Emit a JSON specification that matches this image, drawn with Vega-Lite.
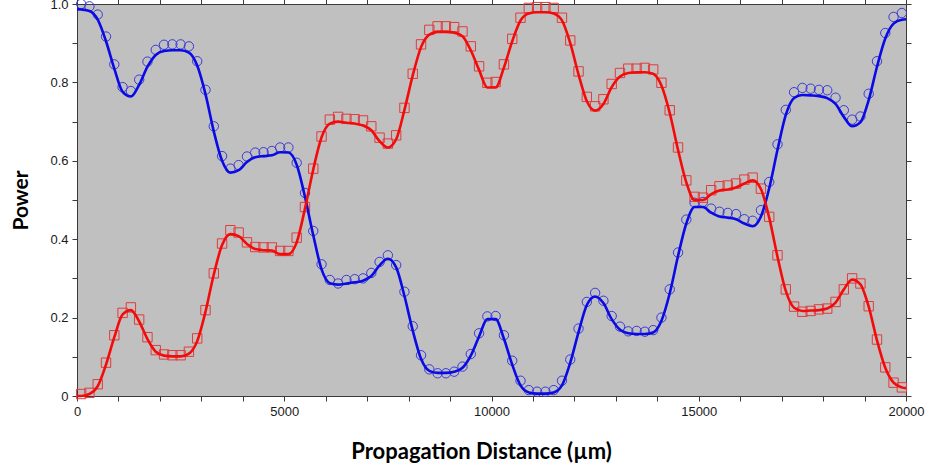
{
  "$schema": "https://vega.github.io/schema/vega-lite/v6.json",
  "width": 829,
  "height": 392,
  "autosize": "none",
  "padding": {"left": 77, "top": 4, "right": 25, "bottom": 76},
  "background": "#ffffff",
  "config": {
    "view": {"fill": "#c0c0c0", "stroke": "#3a3a3a", "strokeWidth": 1},
    "axis": {
      "domain": false, "grid": false,
      "tickColor": "#3a3a3a", "tickSize": 5, "tickWidth": 1,
      "labelFont": "Liberation Sans", "labelFontSize": 13, "labelColor": "#1a1a1a", "labelPadding": 3,
      "labelFlush": false, "labelOverlap": false,
      "titleFont": "Lato", "titleFontWeight": "bold", "titleFontSize": 21, "titleColor": "#000000"
    }
  },
  "datasets": {
    "markers": [
      {"d":100,"blue":1.000,"red":0.005},{"d":300,"blue":0.994,"red":0.008},{"d":500,"blue":0.973,"red":0.030},
      {"d":700,"blue":0.917,"red":0.085},{"d":900,"blue":0.846,"red":0.155},{"d":1100,"blue":0.788,"red":0.212},
      {"d":1300,"blue":0.778,"red":0.226},{"d":1500,"blue":0.807,"red":0.195},{"d":1700,"blue":0.853,"red":0.150},
      {"d":1900,"blue":0.883,"red":0.117},{"d":2100,"blue":0.896,"red":0.106},{"d":2300,"blue":0.897,"red":0.104},
      {"d":2500,"blue":0.897,"red":0.104},{"d":2700,"blue":0.892,"red":0.113},{"d":2900,"blue":0.854,"red":0.147},
      {"d":3100,"blue":0.781,"red":0.219},{"d":3300,"blue":0.688,"red":0.313},{"d":3500,"blue":0.612,"red":0.389},
      {"d":3700,"blue":0.580,"red":0.423},{"d":3900,"blue":0.589,"red":0.417},{"d":4100,"blue":0.611,"red":0.392},
      {"d":4300,"blue":0.621,"red":0.380},{"d":4500,"blue":0.622,"red":0.379},{"d":4700,"blue":0.625,"red":0.379},
      {"d":4900,"blue":0.634,"red":0.370},{"d":5100,"blue":0.634,"red":0.370},{"d":5300,"blue":0.595,"red":0.404},
      {"d":5500,"blue":0.518,"red":0.482},{"d":5700,"blue":0.421,"red":0.580},{"d":5900,"blue":0.336,"red":0.662},
      {"d":6100,"blue":0.296,"red":0.705},{"d":6300,"blue":0.287,"red":0.712},{"d":6500,"blue":0.296,"red":0.707},
      {"d":6700,"blue":0.298,"red":0.706},{"d":6900,"blue":0.300,"red":0.703},{"d":7100,"blue":0.314,"red":0.688},
      {"d":7300,"blue":0.342,"red":0.659},{"d":7500,"blue":0.359,"red":0.644},{"d":7700,"blue":0.334,"red":0.665},
      {"d":7900,"blue":0.266,"red":0.735},{"d":8100,"blue":0.178,"red":0.822},{"d":8300,"blue":0.104,"red":0.897},
      {"d":8500,"blue":0.068,"red":0.934},{"d":8700,"blue":0.058,"red":0.943},{"d":8900,"blue":0.058,"red":0.943},
      {"d":9100,"blue":0.062,"red":0.941},{"d":9300,"blue":0.075,"red":0.930},{"d":9500,"blue":0.107,"red":0.892},
      {"d":9700,"blue":0.160,"red":0.841},{"d":9900,"blue":0.203,"red":0.799},{"d":10100,"blue":0.204,"red":0.801},
      {"d":10300,"blue":0.155,"red":0.846},{"d":10500,"blue":0.090,"red":0.911},{"d":10700,"blue":0.039,"red":0.965},
      {"d":10900,"blue":0.015,"red":0.990},{"d":11100,"blue":0.011,"red":0.992},{"d":11300,"blue":0.011,"red":0.992},
      {"d":11500,"blue":0.015,"red":0.990},{"d":11700,"blue":0.039,"red":0.965},{"d":11900,"blue":0.093,"red":0.907},
      {"d":12100,"blue":0.172,"red":0.828},{"d":12300,"blue":0.240,"red":0.763},{"d":12500,"blue":0.263,"red":0.739},
      {"d":12700,"blue":0.243,"red":0.757},{"d":12900,"blue":0.204,"red":0.796},{"d":13100,"blue":0.177,"red":0.824},
      {"d":13300,"blue":0.165,"red":0.835},{"d":13500,"blue":0.166,"red":0.835},{"d":13700,"blue":0.164,"red":0.837},
      {"d":13900,"blue":0.168,"red":0.833},{"d":14100,"blue":0.200,"red":0.799},{"d":14300,"blue":0.272,"red":0.729},
      {"d":14500,"blue":0.366,"red":0.634},{"d":14700,"blue":0.450,"red":0.550},{"d":14900,"blue":0.493,"red":0.508},
      {"d":15100,"blue":0.495,"red":0.506},{"d":15300,"blue":0.478,"red":0.525},{"d":15500,"blue":0.470,"red":0.535},
      {"d":15700,"blue":0.467,"red":0.537},{"d":15900,"blue":0.464,"red":0.542},{"d":16100,"blue":0.451,"red":0.552},
      {"d":16300,"blue":0.447,"red":0.557},{"d":16500,"blue":0.474,"red":0.529},{"d":16700,"blue":0.546,"red":0.457},
      {"d":16900,"blue":0.642,"red":0.359},{"d":17100,"blue":0.730,"red":0.272},{"d":17300,"blue":0.775,"red":0.228},
      {"d":17500,"blue":0.786,"red":0.215},{"d":17700,"blue":0.784,"red":0.217},{"d":17900,"blue":0.781,"red":0.221},
      {"d":18100,"blue":0.780,"red":0.223},{"d":18300,"blue":0.761,"red":0.240},{"d":18500,"blue":0.729,"red":0.272},
      {"d":18700,"blue":0.705,"red":0.300},{"d":18900,"blue":0.713,"red":0.287},{"d":19100,"blue":0.771,"red":0.229},
      {"d":19300,"blue":0.854,"red":0.144},{"d":19500,"blue":0.926,"red":0.073},{"d":19700,"blue":0.967,"red":0.034},
      {"d":19900,"blue":0.977,"red":0.022}
    ],
    "lines": [
      {"d":0,"blue":0.987,"red":0.000},
      {"d":100,"blue":0.986,"red":0.000},{"d":300,"blue":0.982,"red":0.005},{"d":500,"blue":0.960,"red":0.025},
      {"d":700,"blue":0.905,"red":0.080},{"d":900,"blue":0.835,"red":0.150},{"d":1100,"blue":0.776,"red":0.208},
      {"d":1300,"blue":0.764,"red":0.219},{"d":1500,"blue":0.794,"red":0.190},{"d":1700,"blue":0.840,"red":0.145},
      {"d":1900,"blue":0.870,"red":0.113},{"d":2100,"blue":0.880,"red":0.103},{"d":2300,"blue":0.882,"red":0.101},
      {"d":2500,"blue":0.882,"red":0.101},{"d":2700,"blue":0.876,"red":0.108},{"d":2900,"blue":0.843,"red":0.140},
      {"d":3100,"blue":0.770,"red":0.215},{"d":3300,"blue":0.675,"red":0.310},{"d":3500,"blue":0.600,"red":0.385},
      {"d":3700,"blue":0.570,"red":0.413},{"d":3900,"blue":0.576,"red":0.408},{"d":4100,"blue":0.597,"red":0.388},
      {"d":4300,"blue":0.609,"red":0.375},{"d":4500,"blue":0.612,"red":0.372},{"d":4700,"blue":0.614,"red":0.371},
      {"d":4900,"blue":0.622,"red":0.362},{"d":5100,"blue":0.621,"red":0.362},{"d":5300,"blue":0.590,"red":0.392},
      {"d":5500,"blue":0.508,"red":0.478},{"d":5700,"blue":0.410,"red":0.578},{"d":5900,"blue":0.323,"red":0.660},
      {"d":6100,"blue":0.288,"red":0.695},{"d":6300,"blue":0.284,"red":0.700},{"d":6500,"blue":0.287,"red":0.697},
      {"d":6700,"blue":0.290,"red":0.695},{"d":6900,"blue":0.294,"red":0.690},{"d":7100,"blue":0.306,"red":0.678},
      {"d":7300,"blue":0.333,"red":0.650},{"d":7500,"blue":0.350,"red":0.634},{"d":7700,"blue":0.328,"red":0.655},
      {"d":7900,"blue":0.255,"red":0.730},{"d":8100,"blue":0.167,"red":0.818},{"d":8300,"blue":0.095,"red":0.890},
      {"d":8500,"blue":0.064,"red":0.922},{"d":8700,"blue":0.059,"red":0.929},{"d":8900,"blue":0.059,"red":0.929},
      {"d":9100,"blue":0.062,"red":0.927},{"d":9300,"blue":0.072,"red":0.918},{"d":9500,"blue":0.103,"red":0.882},
      {"d":9700,"blue":0.152,"red":0.832},{"d":9900,"blue":0.196,"red":0.787},{"d":10100,"blue":0.196,"red":0.787},
      {"d":10300,"blue":0.146,"red":0.838},{"d":10500,"blue":0.080,"red":0.905},{"d":10700,"blue":0.027,"red":0.958},
      {"d":10900,"blue":0.009,"red":0.976},{"d":11100,"blue":0.006,"red":0.979},{"d":11300,"blue":0.006,"red":0.979},
      {"d":11500,"blue":0.009,"red":0.976},{"d":11700,"blue":0.027,"red":0.958},{"d":11900,"blue":0.085,"red":0.900},
      {"d":12100,"blue":0.163,"red":0.820},{"d":12300,"blue":0.232,"red":0.752},{"d":12500,"blue":0.254,"red":0.728},
      {"d":12700,"blue":0.237,"red":0.745},{"d":12900,"blue":0.196,"red":0.788},{"d":13100,"blue":0.169,"red":0.815},
      {"d":13300,"blue":0.160,"red":0.824},{"d":13500,"blue":0.158,"red":0.826},{"d":13700,"blue":0.158,"red":0.826},
      {"d":13900,"blue":0.162,"red":0.822},{"d":14100,"blue":0.192,"red":0.792},{"d":14300,"blue":0.262,"red":0.722},
      {"d":14500,"blue":0.357,"red":0.628},{"d":14700,"blue":0.440,"red":0.545},{"d":14900,"blue":0.482,"red":0.500},
      {"d":15100,"blue":0.482,"red":0.500},{"d":15300,"blue":0.468,"red":0.515},{"d":15500,"blue":0.458,"red":0.524},
      {"d":15700,"blue":0.455,"red":0.527},{"d":15900,"blue":0.451,"red":0.532},{"d":16100,"blue":0.440,"red":0.542},
      {"d":16300,"blue":0.433,"red":0.550},{"d":16500,"blue":0.458,"red":0.528},{"d":16700,"blue":0.530,"red":0.455},
      {"d":16900,"blue":0.628,"red":0.355},{"d":17100,"blue":0.717,"red":0.268},{"d":17300,"blue":0.760,"red":0.225},
      {"d":17500,"blue":0.768,"red":0.217},{"d":17700,"blue":0.767,"red":0.218},{"d":17900,"blue":0.765,"red":0.219},
      {"d":18100,"blue":0.760,"red":0.223},{"d":18300,"blue":0.745,"red":0.238},{"d":18500,"blue":0.712,"red":0.272},
      {"d":18700,"blue":0.688,"red":0.297},{"d":18900,"blue":0.698,"red":0.285},{"d":19100,"blue":0.755,"red":0.228},
      {"d":19300,"blue":0.840,"red":0.142},{"d":19500,"blue":0.912,"red":0.072},{"d":19700,"blue":0.950,"red":0.034},
      {"d":19900,"blue":0.960,"red":0.022},{"d":20000,"blue":0.961,"red":0.020}
    ]
  },
  "layer": [
    {
      "data": {"name": "markers"},
      "transform": [{"fold": ["blue", "red"], "as": ["series", "p"]}],
      "mark": {"type": "point", "filled": false, "strokeWidth": 1, "size": 88, "opacity": 1},
      "encoding": {
        "x": {"field": "d", "type": "quantitative",
          "scale": {"domain": [0, 20000], "nice": false, "zero": false},
          "axis": {"orient": "bottom",
            "values": [0,1000,2000,3000,4000,5000,6000,7000,8000,9000,10000,11000,12000,13000,14000,15000,16000,17000,18000,19000,20000],
            "labelExpr": "datum.value % 5000 === 0 ? format(datum.value, 'd') : ''",
            "labelPadding": 4,
            "title": "Propagation Distance (µm)", "titleX": 404, "titleY": 62, "titleFontSize": 22,
            "titleAlign": "center", "titleAnchor": null, "titleBaseline": "alphabetic"}},
        "y": {"field": "p", "type": "quantitative",
          "scale": {"domain": [0, 1], "nice": false},
          "axis": {"orient": "left",
            "values": [0,0.1,0.2,0.3,0.4,0.5,0.6,0.7,0.8,0.9,1.0],
            "labelExpr": "datum.value === 0 ? '0' : (round(datum.value * 10) % 2 === 0 ? format(datum.value, '.1f') : '')",
            "labelPadding": 4,
            "title": "Power", "titleX": -50, "titleY": 196, "titleAngle": -90,
            "titleAlign": "center", "titleAnchor": null, "titleBaseline": "alphabetic"}},
        "shape": {"field": "series", "type": "nominal",
          "scale": {"domain": ["blue", "red"], "range": ["circle", "square"]}, "legend": null},
        "stroke": {"field": "series", "type": "nominal",
          "scale": {"domain": ["blue", "red"], "range": ["#3a3ad6", "#e03c3c"]}, "legend": null}
      }
    },
    {
      "data": {"name": "lines"},
      "transform": [{"fold": ["blue", "red"], "as": ["series", "p"]}],
      "mark": {"type": "line", "interpolate": "monotone", "strokeWidth": 2.6},
      "encoding": {
        "x": {"field": "d", "type": "quantitative",
          "scale": {"domain": [0, 20000], "nice": false, "zero": false},
          "axis": {"orient": "top", "labels": false, "title": null,
            "values": [0,1000,2000,3000,4000,5000,6000,7000,8000,9000,10000,11000,12000,13000,14000,15000,16000,17000,18000,19000,20000]}},
        "y": {"field": "p", "type": "quantitative",
          "scale": {"domain": [0, 1], "nice": false},
          "axis": {"orient": "right", "labels": false, "title": null,
            "values": [0,0.1,0.2,0.3,0.4,0.5,0.6,0.7,0.8,0.9,1.0]}},
        "color": {"field": "series", "type": "nominal",
          "scale": {"domain": ["blue", "red"], "range": ["#0a0ae6", "#f50a0a"]}, "legend": null},
        "detail": {"field": "series"}
      }
    }
  ],
  "resolve": {"axis": {"x": "independent", "y": "independent"}}
}
